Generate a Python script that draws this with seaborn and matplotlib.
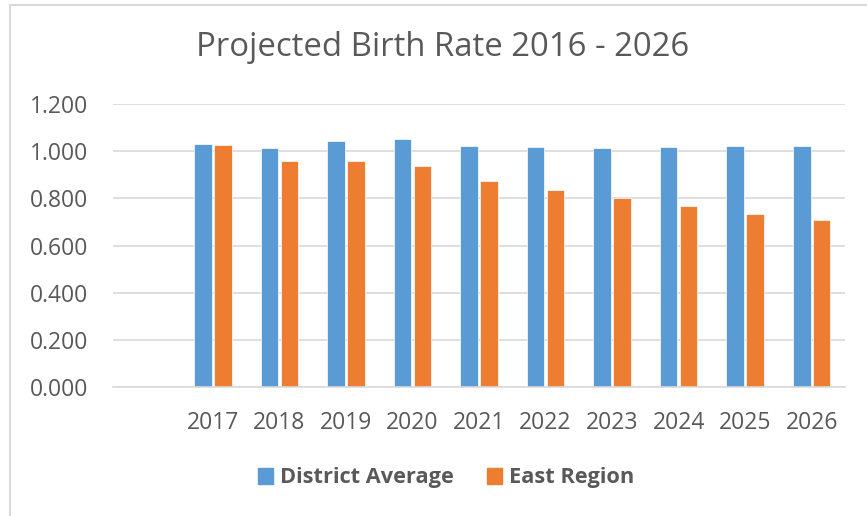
import matplotlib
matplotlib.use('agg')
import matplotlib.pyplot as plt
import matplotlib.patches as mpatches
import seaborn as sns
import pandas as pd

years = ["", "2017", "2018", "2019", "2020", "2021", "2022", "2023", "2024", "2025", "2026"]
district_avg = [None, 1.030, 1.014, 1.044, 1.051, 1.021, 1.017, 1.014, 1.018, 1.022, 1.022]
east_region = [None, 1.025, 0.958, 0.959, 0.939, 0.875, 0.836, 0.802, 0.768, 0.733, 0.708]
series = ["District Average", "East Region"]
colors = ["#5b9bd5", "#ed7d31"]

df = pd.DataFrame({
    "year": years * 2,
    "rate": district_avg + east_region,
    "series": [series[0]] * len(years) + [series[1]] * len(years),
})

sns.set_theme(style="white")
plt.rcParams['font.family'] = ['Open Sans', 'DejaVu Sans']
grey = "#595959"

fig = plt.figure(figsize=(8.67, 5.16), dpi=100)
ax = fig.add_axes([113 / 867, 1 - 387.3 / 516, 732 / 867, 283.3 / 516])

# chart border (only top/left visible in the crop)
fig.patches.append(mpatches.Rectangle((10 / 867, -0.1), 1.2, 1 - 5 / 516 + 0.1,
                                      transform=fig.transFigure, fill=False,
                                      edgecolor="#d9d9d9", linewidth=1.5))

sns.barplot(data=df, x="year", y="rate", hue="series", order=years,
            palette=colors, width=0.6, gap=0.12, ax=ax, legend=False,
            saturation=1, edgecolor="white", linewidth=0.5)

ax.set_ylim(0, 1.2)
ax.set_xlim(-0.5, len(years) - 0.5)
ax.set_yticks([0, 0.2, 0.4, 0.6, 0.8, 1.0, 1.2])
ax.set_yticklabels(["%.3f" % v for v in ax.get_yticks()])
ax.yaxis.grid(True, color="#d9d9d9", linewidth=1.2)
ax.set_axisbelow(True)
for s in ["top", "right", "left"]:
    ax.spines[s].set_visible(False)
ax.spines["bottom"].set_color("#d9d9d9")
ax.spines["bottom"].set_linewidth(1.2)
ax.tick_params(axis="both", length=0, labelsize=16.5, colors=grey)
ax.tick_params(axis="y", pad=18)
ax.tick_params(axis="x", pad=17)
ax.set_xlabel("")
ax.set_ylabel("")

fig.text(443 / 867, 1 - 48 / 516, "Projected Birth Rate 2016 - 2026",
         ha="center", va="center", fontsize=23.7, color=grey)

handles = [mpatches.Patch(color=c, label=l) for c, l in zip(colors, series)]
leg = fig.legend(handles=handles, loc="center", bbox_to_anchor=(446 / 867, 1 - 478 / 516),
                 ncol=2, frameon=False, handlelength=0.7, handleheight=0.7,
                 handletextpad=0.3, columnspacing=1.55,
                 prop={"size": 15.7, "weight": "bold"})
for t in leg.get_texts():
    t.set_color(grey)

fig.savefig("out.png", dpi=100)
plt.close()
